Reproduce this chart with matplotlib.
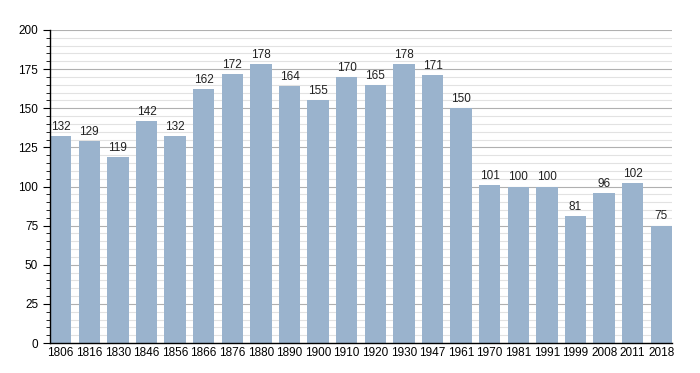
import matplotlib.pyplot as plt
from matplotlib.ticker import MultipleLocator

years = ["1806", "1816", "1830", "1846", "1856", "1866", "1876", "1880", "1890", "1900", "1910",
         "1920", "1930", "1947", "1961", "1970", "1981", "1991", "1999", "2008", "2011", "2018"]
population = [132, 129, 119, 142, 132, 162, 172, 178, 164, 155, 170,
              165, 178, 171, 150, 101, 100, 100, 81, 96, 102, 75]

plt.rcParams['font.family'] = ['Liberation Sans', 'DejaVu Sans']

fig = plt.figure(figsize=(7, 3.73), dpi=100)
ax = fig.add_axes([50 / 700, 30 / 373, 622 / 700, 313 / 373])

x = range(len(years))
w = 0.75
ax.bar(x, population, width=w, color='#9ab3cd', zorder=2)
for i, v in enumerate(population):
    ax.text(i, v + 2, str(v), ha='center', va='bottom', fontsize=8.5, color='#222222', zorder=3)

ax.set_xlim(-w / 2, len(years) - 1 + w / 2)
ax.set_ylim(0, 200)
ax.set_xticks(list(x))
ax.set_xticklabels(years, fontsize=8.5)
ax.tick_params(axis='x', length=0, pad=3)
ax.yaxis.set_major_locator(MultipleLocator(25))
ax.yaxis.set_minor_locator(MultipleLocator(5))
ax.tick_params(axis='y', which='major', length=5, labelsize=8.5, direction='out')
ax.tick_params(axis='y', which='minor', length=3, direction='out')
ax.grid(axis='y', which='major', color='#b0b0b0', linewidth=0.8, zorder=0)
ax.grid(axis='y', which='minor', color='#e2e2e2', linewidth=0.8, zorder=0)
for s in ['top', 'right']:
    ax.spines[s].set_visible(False)
ax.spines['left'].set_linewidth(1)
ax.spines['bottom'].set_linewidth(1)

fig.savefig('out.png', dpi=100)
